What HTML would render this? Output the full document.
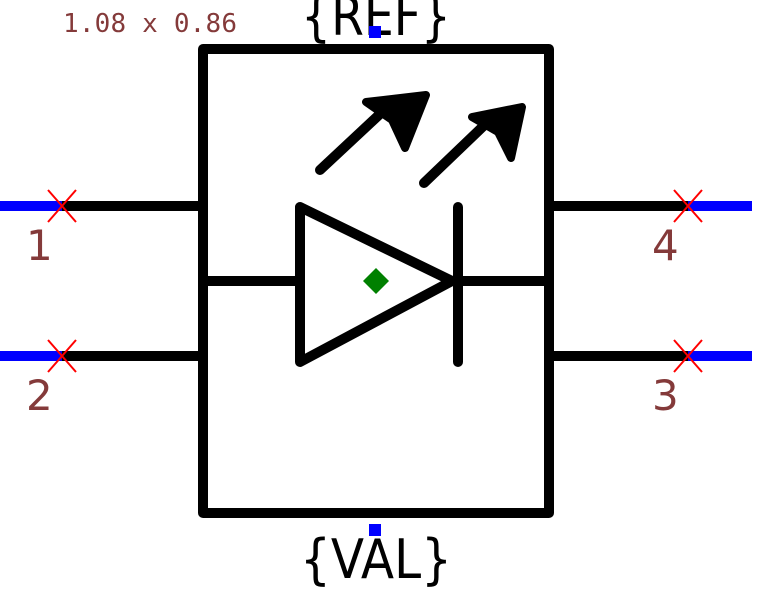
<!DOCTYPE html>
<html><head><style>body{margin:0;background:#fff}svg{display:block}</style></head><body>
<svg width="764" height="593" viewBox="0 0 764 593" xmlns="http://www.w3.org/2000/svg">
<text x="63" y="32" font-family="DejaVu Sans Mono, monospace" font-size="26" fill="#843a3a" textLength="174">1.08 x 0.86</text>
<g stroke="#000" stroke-width="10" stroke-linecap="round" stroke-linejoin="round" fill="none">
<rect x="203" y="49" width="346" height="464"/>
<line x1="62" y1="206" x2="203" y2="206"/>
<line x1="62" y1="356" x2="203" y2="356"/>
<line x1="549" y1="206" x2="688" y2="206"/>
<line x1="549" y1="356" x2="688" y2="356"/>
<line x1="203" y1="281" x2="298" y2="281"/>
<line x1="458" y1="281" x2="549" y2="281"/>
<polygon points="300,207 300,362 452,281"/>
<line x1="458" y1="207" x2="458" y2="362"/>
<line x1="320" y1="170" x2="395" y2="100"/>
<line x1="424" y1="183" x2="496" y2="114"/>
</g>
<polygon points="366,102 426,95 405,148 392,120" fill="#000" stroke="#000" stroke-width="8" stroke-linejoin="round"/>
<polygon points="472,117 522,107 511,158 498,132" fill="#000" stroke="#000" stroke-width="8" stroke-linejoin="round"/>
<g stroke="#0000ff" stroke-width="10">
<line x1="0" y1="206" x2="62" y2="206"/>
<line x1="0" y1="356" x2="62" y2="356"/>
<line x1="688" y1="206" x2="752" y2="206"/>
<line x1="688" y1="356" x2="752" y2="356"/>
</g>
<g stroke="#ff0000" stroke-width="2">
<path d="M48 190L76 222M76 190L48 222"/>
<path d="M48 340L76 372M76 340L48 372"/>
<path d="M674 190L702 222M702 190L674 222"/>
<path d="M674 340L702 372M702 340L674 372"/>
</g>
<polygon points="376,268 389,281 376,294 363,281" fill="#008000"/>
<g font-family="DejaVu Sans, sans-serif" font-size="42" fill="#843a3a">
<text x="26" y="260">1</text><text x="26" y="410">2</text>
<text x="652" y="260">4</text><text x="652" y="410">3</text>
</g>
<rect x="306" y="0" width="140" height="42" fill="#fff"/>
<g font-family="DejaVu Sans, sans-serif" font-size="54" fill="#000" text-anchor="middle">
<text x="376" y="35" textLength="150" lengthAdjust="spacingAndGlyphs">{REF}</text>
<text x="376" y="578" textLength="152" lengthAdjust="spacingAndGlyphs">{VAL}</text>
</g>
<rect x="369" y="26" width="12" height="12" fill="#0000ff"/>
<rect x="369" y="524" width="12" height="12" fill="#0000ff"/>
</svg>
</body></html>
